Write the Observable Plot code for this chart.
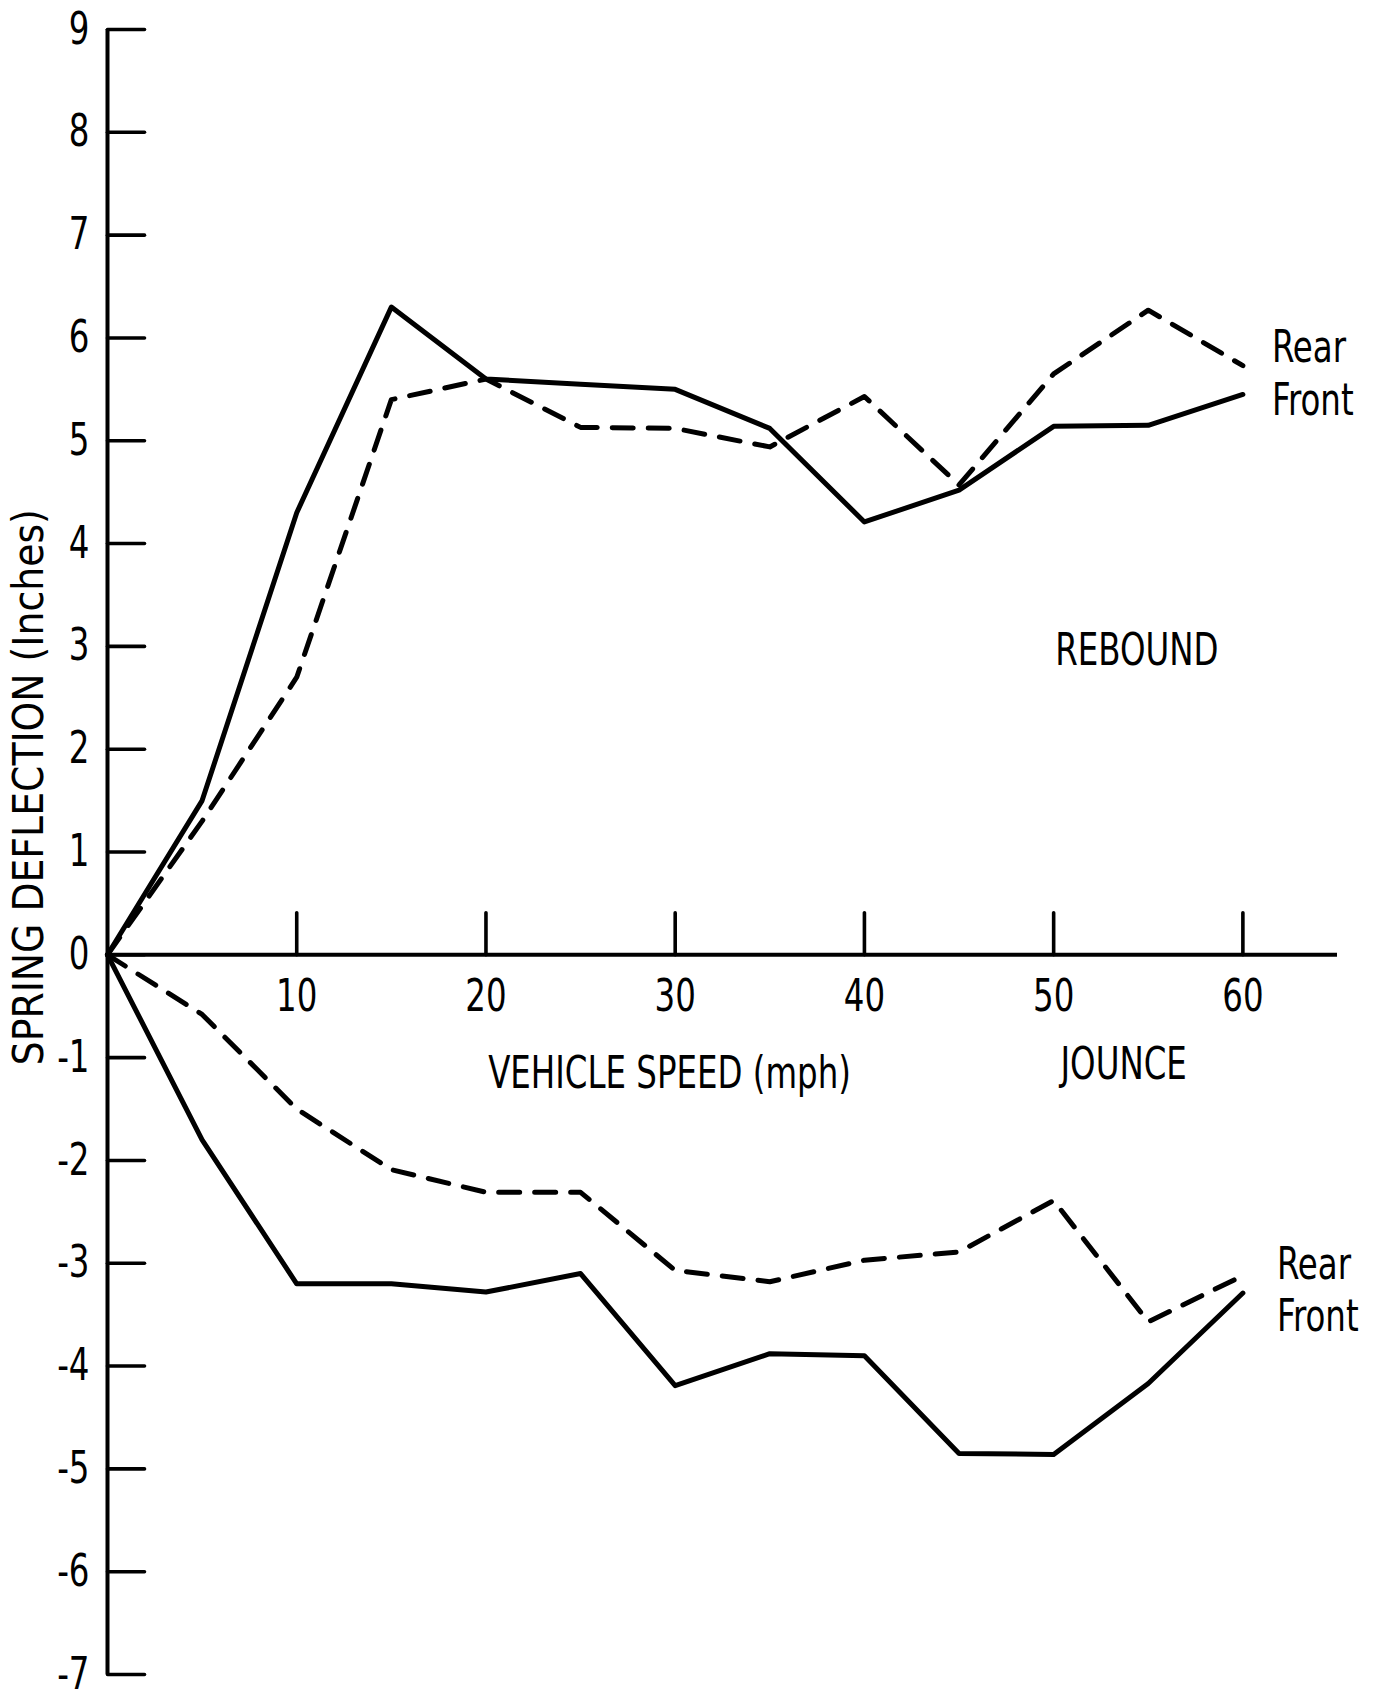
<!DOCTYPE html>
<html>
<head>
<meta charset="utf-8">
<script src="https://cdn.jsdelivr.net/npm/d3@7"></script>
<script src="https://cdn.jsdelivr.net/npm/@observablehq/plot@0.6"></script>
<style>
  html, body { margin: 0; padding: 0; background: #fff; }
  svg { display: block; }
</style>
</head>
<body>
<div id="chart"></div>
<script>
// Vehicle speed (mph)
const speed = [0, 5, 10, 15, 20, 25, 30, 35, 40, 45, 50, 55, 60];
// Rebound (positive deflection, inches)
const reboundFront = [0, 1.5, 4.3, 6.3, 5.6, 5.55, 5.5, 5.12, 4.21, 4.52, 5.14, 5.15, 5.45];
const reboundRear  = [0, 1.3, 2.7, 5.4, 5.6, 5.13, 5.12, 4.94, 5.43, 4.57, 5.65, 6.27, 5.73];
// Jounce (negative deflection, inches)
const jounceFront = [0, -1.8, -3.2, -3.2, -3.28, -3.1, -4.19, -3.88, -3.9, -4.85, -4.86, -4.17, -3.29];
const jounceRear  = [0, -0.58, -1.5, -2.09, -2.31, -2.31, -3.07, -3.18, -2.97, -2.89, -2.39, -3.57, -3.12];

const xTicks = [10, 20, 30, 40, 50, 60];
const yTicks = [9, 8, 7, 6, 5, 4, 3, 2, 1, 0, -1, -2, -3, -4, -5, -6, -7];

const series = [
  {name: "Rebound Front", values: reboundFront, dashed: false},
  {name: "Rebound Rear", values: reboundRear, dashed: true},
  {name: "Jounce Front", values: jounceFront, dashed: false},
  {name: "Jounce Rear", values: jounceRear, dashed: true}
];
const rows = series.flatMap(s => s.values.map((v, i) => ({series: s.name, speed: speed[i], v, dashed: s.dashed})));

const reboundLabels = [
  {text: "Rear", x: 60, y: 5.9},
  {text: "Front", x: 60, y: 5.39}
];
const jounceLabels = [
  {text: "Rear", x: 60, y: -3.02},
  {text: "Front", x: 60, y: -3.52}
];
const annotations = [
  {text: "REBOUND", x: 54.4, y: 2.96},
  {text: "JOUNCE", x: 53.7, y: -1.07},
  {text: "VEHICLE SPEED (mph)", x: 29.7, y: -1.16}
];

const FONT = "'DejaVu Sans Condensed', 'Liberation Sans Narrow', sans-serif";
const FS = 44;
const lineShape = {draw(ctx, l) { ctx.moveTo(0, 0); ctx.lineTo(0, -l); }};

const chart = Plot.plot({
  width: 1379,
  height: 1694,
  marginLeft: 107,
  marginRight: 42,
  marginTop: 29,
  marginBottom: 20,
  style: {fontFamily: FONT, background: "#fff"},
  x: {domain: [0, 65], axis: null},
  y: {domain: [-7, 9], axis: null},
  marks: [
    // axis lines
    Plot.ruleX([0], {y1: -7, y2: 9, stroke: "#000", strokeWidth: 4}),
    Plot.ruleY([0], {x1: 0, x2: 65, stroke: "#000", strokeWidth: 4}),
    // y ticks (pointing right, inside the frame)
    Plot.vector(yTicks, {x: 0, y: d => d, rotate: 90, length: 37, anchor: "start", shape: lineShape, stroke: "#000", strokeWidth: 3.6}),
    // x ticks (pointing up from the axis)
    Plot.vector(xTicks, {x: d => d, y: 0, rotate: 0, length: 42, anchor: "start", shape: lineShape, stroke: "#000", strokeWidth: 3.6}),
    // tick labels
    Plot.text(yTicks, {x: 0, y: d => d, text: d => String(d), dx: -18, textAnchor: "end", fontSize: FS, fill: "#000"}),
    Plot.text(xTicks, {x: d => d, y: 0, text: d => String(d), dy: 42, fontSize: FS, fill: "#000"}),
    // data lines
    Plot.line(rows.filter(d => !d.dashed), {x: "speed", y: "v", z: "series", stroke: "#000", strokeWidth: 5}),
    Plot.line(rows.filter(d => d.dashed), {x: "speed", y: "v", z: "series", stroke: "#000", strokeWidth: 5,
      strokeDasharray: "21,15", strokeLinecap: "round"}),
    // end labels
    Plot.text(reboundLabels, {x: "x", y: "y", text: "text", dx: 29, textAnchor: "start", fontSize: FS, fill: "#000"}),
    Plot.text(jounceLabels, {x: "x", y: "y", text: "text", dx: 34, textAnchor: "start", fontSize: FS, fill: "#000"}),
    // annotations
    Plot.text(annotations, {x: "x", y: "y", text: "text", fontSize: FS, fill: "#000"}),
    // y-axis title
    Plot.text(["SPRING DEFLECTION (Inches)"], {frameAnchor: "left", textAnchor: "middle", dx: -78, y: 1.63, rotate: -90, fontSize: 42, fill: "#000"})
  ]
});

// condense the horizontal texts around their own anchor point, like the narrow face of the original
chart.querySelectorAll("text").forEach(t => {
  const tr = t.getAttribute("transform") || "";
  if (tr.includes("rotate")) return;
  if (tr) {
    t.setAttribute("transform", tr + " scale(0.82,1)");
  } else {
    const x = +(t.getAttribute("x") || 0), y = +(t.getAttribute("y") || 0);
    t.removeAttribute("x"); t.removeAttribute("y");
    t.setAttribute("transform", `translate(${x},${y}) scale(0.82,1)`);
  }
});
document.getElementById("chart").append(chart);
</script>
</body>
</html>
